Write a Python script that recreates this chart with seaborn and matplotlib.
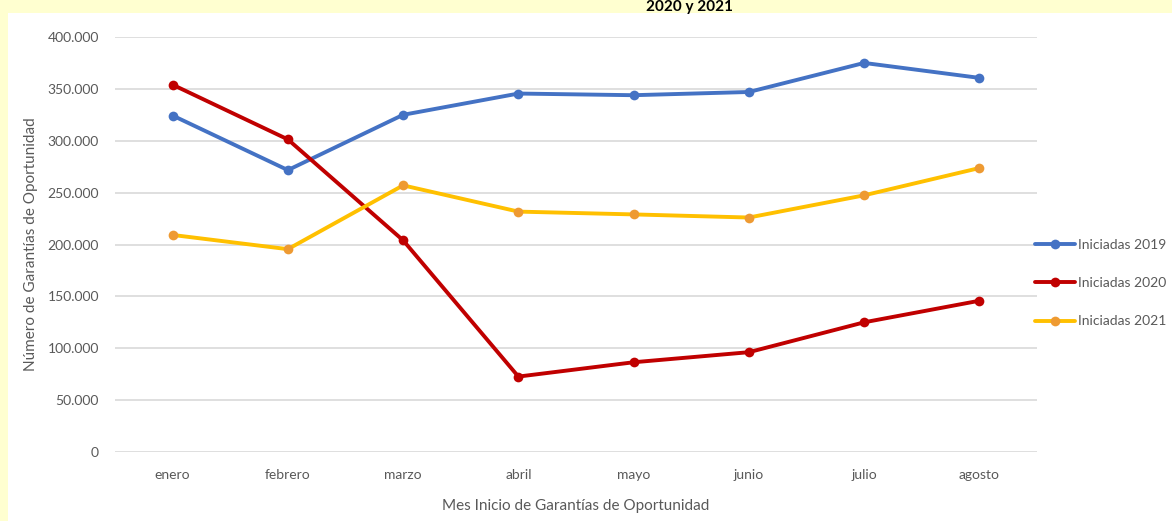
import matplotlib
matplotlib.use("Agg")
import matplotlib.pyplot as plt
import matplotlib.ticker as mticker
from matplotlib.patches import Rectangle
import pandas as pd
import seaborn as sns

meses = ["enero", "febrero", "marzo", "abril", "mayo", "junio", "julio", "agosto"]
iniciadas_2019 = [324300, 271700, 325000, 345500, 343900, 347000, 375000, 360600]
iniciadas_2020 = [354000, 301300, 204000, 72700, 86500, 96200, 125000, 145800]
iniciadas_2021 = [209200, 195500, 257000, 231700, 229000, 226000, 247400, 273700]
series = ["Iniciadas 2019", "Iniciadas 2020", "Iniciadas 2021"]
colores = ["#4472C4", "#C00000", "#FFC000"]

df = pd.DataFrame({
    "mes": meses * 3,
    "valor": iniciadas_2019 + iniciadas_2020 + iniciadas_2021,
    "serie": [s for s in series for _ in meses],
})

sns.set_style("white")
plt.rcParams["font.family"] = ["Lato", "DejaVu Sans"]

fig = plt.figure(figsize=(11.72, 5.21), dpi=100)
fig.patch.set_facecolor("#FFFFD0")
fig.patches.append(Rectangle((8 / 1172, 0), 1, 1 - 13 / 521, transform=fig.transFigure,
                             facecolor="white", edgecolor="none", zorder=-5))
ax = fig.add_axes([115 / 1172, 69 / 521, 922 / 1172, 415 / 521])
ax.set_facecolor("white")

sns.lineplot(data=df, x="mes", y="valor", hue="serie", style="serie", palette=colores,
             markers=["o", "o", "o"], dashes=False, linewidth=2.8, markersize=7,
             markeredgewidth=0, sort=False, ax=ax, legend=False)

# 2021 lleva marcador naranja sobre linea amarilla
ax.lines[2].set_markerfacecolor("#EE9A32")

ax.set_ylim(0, 400000)
ax.set_xlim(-0.5, 7.5)
ax.yaxis.set_major_locator(mticker.MultipleLocator(50000))
ax.yaxis.set_major_formatter(mticker.FuncFormatter(lambda v, p: f"{int(v):,}".replace(",", ".")))
ax.grid(axis="y", color="#D9D9D9", linewidth=1.2)
ax.set_axisbelow(True)
for s in ax.spines.values():
    s.set_visible(False)
ax.tick_params(axis="both", length=0, colors="#595959", labelsize=10)
ax.tick_params(axis="y", pad=11.5)
ax.tick_params(axis="x", pad=12)

ax.set_xlabel("Mes Inicio de Garantías de Oportunidad", color="#595959", fontsize=11, labelpad=13)
ax.set_ylabel("Número de Garantías de Oportunidad", color="#595959", fontsize=11, labelpad=7)

fig.text(690 / 1172, 1 - 11 / 521, "2020 y 2021", ha="center", va="baseline",
         fontsize=11, fontweight="bold", color="black")

ax.legend(handles=ax.lines[:3], labels=series, loc="center left",
          bbox_to_anchor=(1035 / 1172, (521 - 283) / 521), bbox_transform=fig.transFigure,
          frameon=False, fontsize=10, labelspacing=1.9, handlelength=2.9,
          handletextpad=0.2, borderpad=0, borderaxespad=0, labelcolor="#595959")

plt.savefig("out.png", dpi=100, facecolor=fig.get_facecolor())
plt.close()
